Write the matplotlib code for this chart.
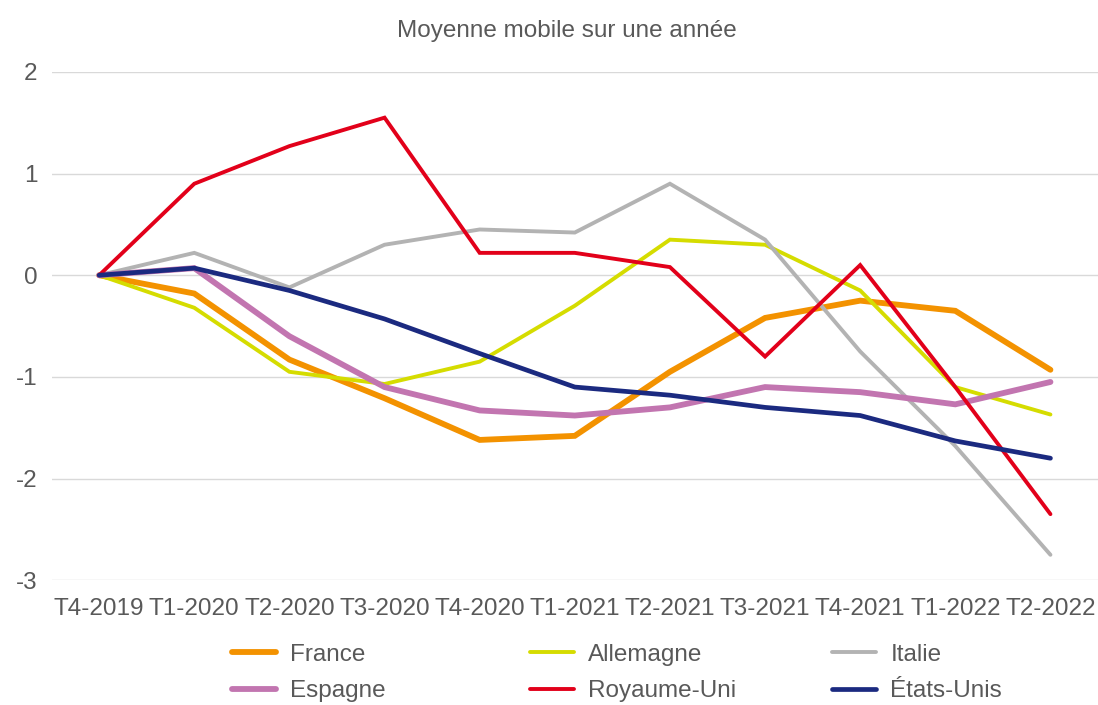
import numpy as np
import matplotlib
matplotlib.use('Agg')
from matplotlib import pyplot as plt

plt.rcParams['font.family'] = ['Liberation Sans', 'DejaVu Sans']

quarters = ['T4-2019', 'T1-2020', 'T2-2020', 'T3-2020', 'T4-2020', 'T1-2021',
            'T2-2021', 'T3-2021', 'T4-2021', 'T1-2022', 'T2-2022']

france = [0, -0.18, -0.83, -1.21, -1.62, -1.58, -0.95, -0.42, -0.25, -0.35, -0.93]
allemagne = [0, -0.32, -0.95, -1.07, -0.85, -0.30, 0.35, 0.30, -0.15, -1.10, -1.37]
italie = [0, 0.22, -0.12, 0.30, 0.45, 0.42, 0.90, 0.35, -0.75, -1.68, -2.75]
espagne = [0, 0.07, -0.60, -1.10, -1.33, -1.38, -1.30, -1.10, -1.15, -1.27, -1.05]
royaume_uni = [0, 0.90, 1.27, 1.55, 0.22, 0.22, 0.08, -0.80, 0.10, -1.10, -2.35]
etats_unis = [0, 0.07, -0.15, -0.43, -0.77, -1.10, -1.18, -1.30, -1.38, -1.63, -1.80]

series = [
    ('France', france, '#F39200', 4.2),
    ('Allemagne', allemagne, '#D5DC00', 2.8),
    ('Italie', italie, '#B3B3B3', 2.8),
    ('Espagne', espagne, '#C275B0', 4.2),
    ('Royaume-Uni', royaume_uni, '#E2001A', 2.8),
    ('États-Unis', etats_unis, '#1B2A80', 3.4),
]

txt = '#595959'
fs = 17.5

fig = plt.figure(figsize=(10.98, 7.05), dpi=100)
ax = fig.add_axes([0.047, 0.177, 0.953, 0.721])

x = np.arange(len(quarters))
lines = []
for name, vals, col, lw in series:
    ln, = ax.plot(x, vals, color=col, lw=lw, label=name, solid_capstyle='round',
                  solid_joinstyle='miter')
    lines.append(ln)

ax.set_xlim(-0.5, 10.5)
ax.set_ylim(-3, 2)
ax.set_yticks([-3, -2, -1, 0, 1, 2])
ax.set_yticklabels(['-3', '-2', '-1', '0', '1', '2'])
ax.set_xticks(x)
ax.set_xticklabels(quarters)
ax.tick_params(length=0, labelsize=fs, labelcolor=txt)
ax.tick_params(axis='x', pad=13)
ax.tick_params(axis='y', pad=10)
ax.grid(axis='y', color='#D9D9D9', lw=1)
ax.set_axisbelow(True)
for s in ax.spines.values():
    s.set_visible(False)

fig.text(0.516, 0.956, 'Moyenne mobile sur une année', ha='center', va='center',
         fontsize=fs, color=txt)

# Excel-style legend: fixed column positions, row-major order
col_x = [0.2113, 0.4827, 0.7577]
for i, cx in enumerate(col_x):
    hs = [lines[i], lines[i + 3]]
    leg = fig.legend(hs, [h.get_label() for h in hs], loc='upper left',
                     bbox_to_anchor=(cx, 0.087), frameon=False, fontsize=fs,
                     handlelength=1.8, handletextpad=0.6, labelspacing=0.6,
                     borderpad=0, borderaxespad=0)
    for t in leg.get_texts():
        t.set_color(txt)

fig.savefig('out.png', dpi=100)
